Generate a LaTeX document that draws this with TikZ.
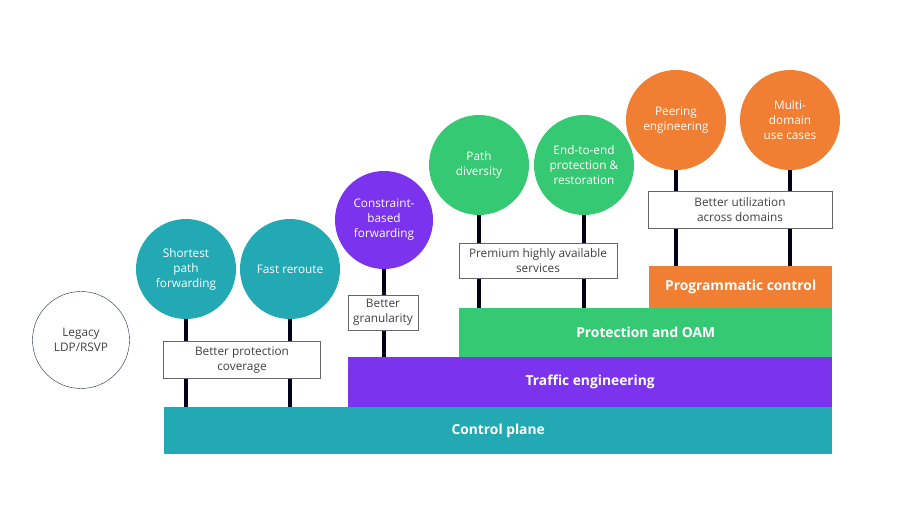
\documentclass[tikz,border=0pt]{standalone}
\usepackage{fontspec}
\setmainfont{Open Sans}
\usetikzlibrary{positioning}

\definecolor{cpteal}{HTML}{23A9B4}
\definecolor{tepurple}{HTML}{7B33EE}
\definecolor{oamgreen}{HTML}{36C973}
\definecolor{pcorange}{HTML}{F07F33}
\definecolor{legacyblue}{HTML}{1E2846}

\begin{document}
\begin{tikzpicture}[
    x=1pt, y=-1pt,
    feature/.style={circle, minimum size=100pt, inner sep=0pt, align=center,
        text=white, font=\fontsize{11.8}{15}\selectfont},
    layer/.style={rectangle, anchor=north west, inner sep=0pt, text=white,
        font=\fontsize{13.8}{15}\selectfont\bfseries},
    gain/.style={rectangle, draw=gray!80!black, fill=white, thin, inner sep=1pt,
        align=center, text=black!75, font=\fontsize{11.8}{15}\selectfont},
    stem/.style={line width=3.2pt, draw=black!90!blue},
]
\useasboundingbox (0,0) rectangle (907,510);

% layers
\node[layer, fill=cpteal, minimum width=668pt, minimum height=47pt] (control) at (164,407) {Control plane};
\node[layer, fill=tepurple, minimum width=484pt, minimum height=50pt] (traffic) at (348,357) {Traffic engineering};
\node[layer, fill=oamgreen, minimum width=373pt, minimum height=49pt] (oam) at (459,308) {Protection and OAM};
\node[layer, fill=pcorange, minimum width=183pt, minimum height=42pt] (prog) at (649,266) {Programmatic control};

% legacy
\node[feature, draw=legacyblue, thin, minimum size=97pt, text=black!75] (legacy) at (81,340) {Legacy\\LDP/RSVP};

% features
\node[feature, fill=cpteal] (shortest) at (186,269) {Shortest\\path\\forwarding};
\node[feature, fill=cpteal] (reroute) at (290,269) {Fast reroute};
\node[feature, fill=tepurple, minimum size=98pt] (constraint) at (384,220) {Constraint-\\based\\forwarding};
\node[feature, fill=oamgreen] (diversity) at (479,165) {Path\\diversity};
\node[feature, fill=oamgreen] (endtoend) at (584,165) {End-to-end\\protection \&\\restoration};
\node[feature, fill=pcorange] (peering) at (676,120) {Peering\\engineering};
\node[feature, fill=pcorange] (multi) at (790,120) {Multi-\\domain\\use cases};

% stems
\draw[stem] (shortest.south) -- (shortest.south |- control.north);
\draw[stem] (reroute.south) -- (reroute.south |- control.north);
\draw[stem] (constraint.south) -- (constraint.south |- traffic.north);
\draw[stem] (diversity.south) -- (diversity.south |- oam.north);
\draw[stem] (endtoend.south) -- (endtoend.south |- oam.north);
\draw[stem] (peering.south) -- (peering.south |- prog.north);
\draw[stem] (multi.south) -- (multi.south |- prog.north);

% gains
\node[gain, minimum width=157pt, minimum height=37pt] (coverage) at (242,360) {Better protection\\coverage};
\node[gain, minimum width=70pt, minimum height=35pt] (granularity) at (383,312.5) {Better\\granularity};
\node[gain, minimum width=158pt, minimum height=35pt] (premium) at (538,260.5) {Premium highly available\\services};
\node[gain, minimum width=184pt, minimum height=37pt] (utilization) at (740,209.5) {Better utilization\\across domains};
\end{tikzpicture}
\end{document}
